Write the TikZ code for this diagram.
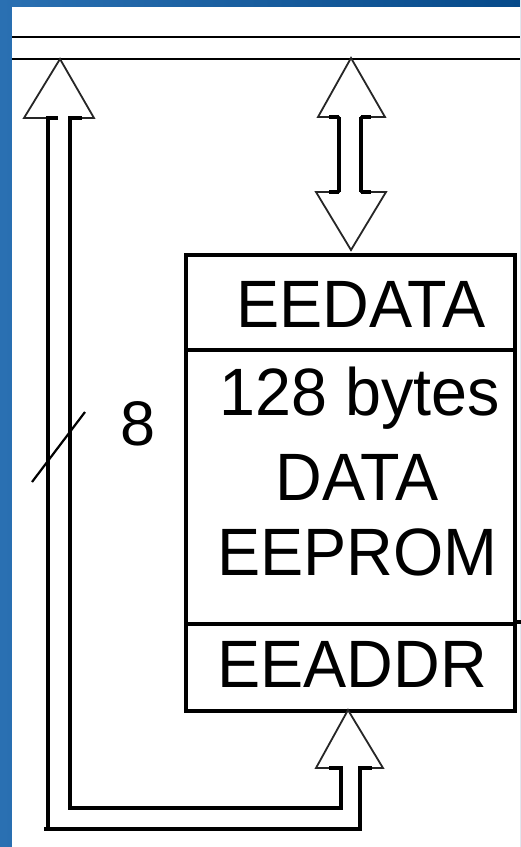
\documentclass[tikz,border=0pt]{standalone}
\usepackage{fontspec}
\setmainfont{Liberation Sans}
\newcommand{\narrowtxt}[1]{\scalebox{0.965}[1]{#1}}
\begin{document}
\begin{tikzpicture}[x=1pt,y=-1pt,
  boxline/.style={line width=4pt},
  busline/.style={line width=2.6pt},
  headline/.style={line width=1.8pt,draw=black!85,fill=white,line join=miter},
  shaftline/.style={line width=3.2pt},
  lbl/.style={inner sep=0pt,anchor=base,font=\fontsize{67}{67}\selectfont},
  part/.style={draw,boxline,inner sep=0pt,anchor=north west}]
\useasboundingbox (0,0) rectangle (520,847);
% blue frame
\shade[left color={rgb,255:red,42;green,112;blue,178},right color={rgb,255:red,6;green,74;blue,138}] (0,0) rectangle (520,847);
\fill[white] (12,7) rectangle (520,847);
% bus lines
\coordinate (busAw) at (12,37); \coordinate (busAe) at (520,37);
\coordinate (busBw) at (12,59); \coordinate (busBe) at (520,59);
\draw[busline] (busAw) -- (busAe);
\draw[busline] (busBw) -- (busBe);
% memory box
\node[part,minimum width=329pt,minimum height=95pt] (eedata) at (184,253) {};
\node[part,minimum width=329pt,minimum height=274pt] (mem) at (184,348) {};
\node[part,minimum width=329pt,minimum height=87pt] (eeaddr) at (184,622) {};
\draw[boxline] (eeaddr.north east) -- ++(7,0);
\node[lbl] (t1) at (361,327) {\narrowtxt{EEDATA}};
\node[lbl] (t2) at (360,415) {\narrowtxt{128 bytes}};
\node[lbl] (t3) at (357,500) {\narrowtxt{DATA}};
\node[lbl] (t4) at (357.5,575) {\narrowtxt{EEPROM}};
\node[lbl] (t5) at (352,687) {\narrowtxt{EEADDR}};
% top double arrow (data bus <-> EEDATA)
\draw[headline] (351,58) -- (385,117) -- (361,117) -- (361,192) -- (386,192) -- (351,250)
  -- (316,192) -- (339,192) -- (339,117) -- (318,117) -- cycle;
\draw[shaftline] (339,117) -- (339,192) (361,117) -- (361,192);
\draw[shaftline] (329,117) -- (339,117) (361,117) -- (371,117) (329,192) -- (339,192) (361,192) -- (371,192);
% address loop arrow
\draw[headline] (60,59) -- (94,118) -- (70,118) -- (70,808) -- (341,808) -- (341,768)
  -- (316,768) -- (348,710) -- (383,768) -- (360,768) -- (360,829) -- (48,829) -- (48,118)
  -- (24,118) -- cycle;
\draw[shaftline] (58,118) -- (48,118) -- (48,829) -- (360,829) -- (360,768) -- (372,768);
\draw[shaftline] (82,118) -- (70,118) -- (70,808) -- (341,808) -- (341,768) -- (329,768);
\draw[shaftline] (48,829) -- (44,829);
% bus width mark
\coordinate (s1) at (32,482); \coordinate (s2) at (85,412);
\draw[line width=2.2pt] (s1) -- (s2);
\node[inner sep=0pt,anchor=base,font=\fontsize{63}{63}\selectfont] (w8) at (138.5,445) {8};
\end{tikzpicture}
\end{document}
